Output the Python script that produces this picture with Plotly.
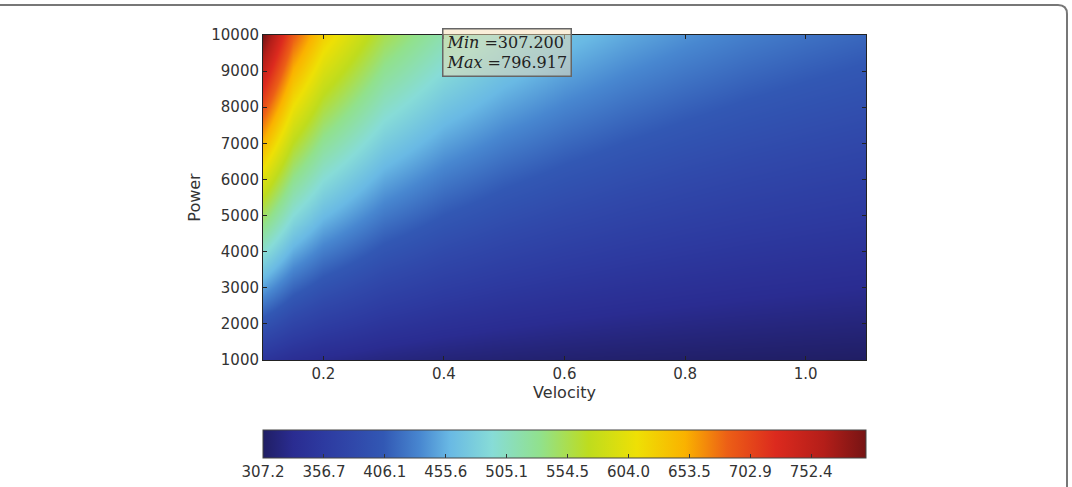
import plotly.graph_objects as go

# ---- data ----
velocity = [0.1, 0.15, 0.2, 0.3, 0.4, 0.5, 0.6, 0.7, 0.8, 0.9, 1.0, 1.1]
power = [1000, 2000, 3000, 4000, 5000, 6000, 7000, 8000, 9000, 10000]

# temperature columns, one list per velocity (values from P=1000 to P=10000)
t_v010 = [345.6, 395.7, 445.9, 496.0, 546.2, 596.3, 646.5, 696.6, 746.8, 796.9]
t_v015 = [334.7, 374.0, 413.3, 452.6, 491.9, 531.2, 570.5, 609.8, 649.1, 688.4]
t_v020 = [328.5, 361.6, 394.7, 427.8, 460.9, 494.0, 527.1, 560.2, 593.3, 626.4]
t_v030 = [321.3, 347.2, 373.1, 399.0, 424.9, 450.8, 476.7, 502.6, 528.5, 554.4]
t_v040 = [317.2, 339.0, 360.8, 382.6, 404.4, 426.2, 448.0, 469.8, 491.6, 513.4]
t_v050 = [314.5, 333.6, 352.7, 371.8, 390.9, 410.0, 429.1, 448.2, 467.3, 486.4]
t_v060 = [312.5, 329.6, 346.7, 363.8, 380.9, 398.0, 415.1, 432.2, 449.3, 466.4]
t_v070 = [311.0, 326.6, 342.2, 357.8, 373.4, 389.0, 404.6, 420.2, 435.8, 451.4]
t_v080 = [309.8, 324.2, 338.6, 353.0, 367.4, 381.8, 396.2, 410.6, 425.0, 439.4]
t_v090 = [308.8, 322.2, 335.6, 349.0, 362.4, 375.8, 389.2, 402.6, 416.0, 429.4]
t_v100 = [308.0, 320.6, 333.2, 345.8, 358.4, 371.0, 383.6, 396.2, 408.8, 421.4]
t_v110 = [307.2, 319.2, 331.1, 343.0, 354.9, 366.8, 378.7, 390.6, 402.5, 414.4]

columns = [t_v010, t_v015, t_v020, t_v030, t_v040, t_v050,
           t_v060, t_v070, t_v080, t_v090, t_v100, t_v110]

t_min = 307.2
t_max = 796.917
cbar_ticks = [307.2, 356.7, 406.1, 455.6, 505.1, 554.5, 604.0, 653.5, 702.9, 752.4]
cbar_labels = ["307.2", "356.7", "406.1", "455.6", "505.1", "554.5",
               "604.0", "653.5", "702.9", "752.4"]
x_ticks = [0.2, 0.4, 0.6, 0.8, 1.0]
x_labels = ["0.2", "0.4", "0.6", "0.8", "1.0"]
y_ticks = [1000, 2000, 3000, 4000, 5000, 6000, 7000, 8000, 9000, 10000]
y_labels = ["1000", "2000", "3000", "4000", "5000", "6000", "7000", "8000",
            "9000", "10000"]

# z as rows (power) x columns (velocity)
z = [[col[i] for col in columns] for i in range(len(power))]

colorscale = [
    [0.00, "rgb(32,30,100)"],
    [0.05, "rgb(42,44,145)"],
    [0.10, "rgb(45,58,160)"],
    [0.15, "rgb(48,72,170)"],
    [0.20, "rgb(50,88,180)"],
    [0.26, "rgb(72,135,208)"],
    [0.31, "rgb(105,185,228)"],
    [0.38, "rgb(135,220,215)"],
    [0.46, "rgb(145,225,140)"],
    [0.54, "rgb(190,220,30)"],
    [0.62, "rgb(238,224,5)"],
    [0.70, "rgb(250,178,0)"],
    [0.77, "rgb(236,95,22)"],
    [0.85, "rgb(220,42,30)"],
    [0.93, "rgb(180,30,25)"],
    [1.00, "rgb(118,20,20)"],
]

# layout geometry (pixels)
W, H = 1072, 487
ML, MR, MT, MB = 263, 206, 35, 127
PW = W - ML - MR
PH = H - MT - MB


def px_x(p):
    return (p - ML) / PW


def px_y(p):
    return (H - MB - p) / PH


TICKFONT = dict(family="DejaVu Sans", size=15, color="#333")
TITLEFONT = dict(family="DejaVu Sans", size=16, color="#333")

fig = go.Figure()
fig.add_trace(go.Heatmap(
    x=velocity, y=power, z=z,
    zmin=t_min, zmax=t_max, zsmooth="best",
    colorscale=colorscale,
    hoverinfo="skip",
    colorbar=dict(
        orientation="h",
        x=0.5, xanchor="center",
        y=px_y(430), yanchor="top",
        len=1.0, lenmode="fraction",
        thickness=28, thicknessmode="pixels",
        outlinewidth=1, outlinecolor="#444",
        tickvals=cbar_ticks, ticktext=cbar_labels,
        ticks="inside", ticklen=4, tickcolor="#333",
        tickfont=TICKFONT,
        xpad=0, ypad=0,
    ),
))

axis_common = dict(
    showline=True, linecolor="#222", linewidth=1, mirror="ticks",
    ticks="inside", ticklen=4, tickcolor="#222",
    showgrid=False, zeroline=False,
    tickfont=TICKFONT,
)

fig.update_xaxes(range=[0.1, 1.1], tickvals=x_ticks, ticktext=x_labels,
                 title=dict(text="Velocity", standoff=4, font=TITLEFONT),
                 **axis_common)
fig.update_yaxes(range=[1000, 10000], tickvals=y_ticks, ticktext=y_labels,
                 title=dict(text="Power", standoff=6, font=TITLEFONT),
                 **axis_common)

fig.add_annotation(
    xref="paper", yref="paper",
    x=px_x(507), y=px_y(28), xanchor="center", yanchor="top",
    text="<i>Min</i> =307.200<br><i>Max</i> =796.917",
    showarrow=False, align="left",
    font=dict(family="DejaVu Serif", size=16, color="#222"),
    bgcolor="rgba(245,222,179,0.5)", bordercolor="#666", borderwidth=1.5,
    borderpad=3,
)

# rounded outer frame (top edge + right edge)
r = 9
path = (f"M {px_x(-5)},{px_y(5)} L {px_x(1067 - r)},{px_y(5)} "
        f"Q {px_x(1067)},{px_y(5)} {px_x(1067)},{px_y(5 + r)} "
        f"L {px_x(1067)},{px_y(495)}")
fig.add_shape(type="path", path=path, xref="paper", yref="paper",
              line=dict(color="#777", width=2), layer="above")

fig.update_layout(
    width=W, height=H,
    margin=dict(l=ML, r=MR, t=MT, b=MB, autoexpand=False),
    paper_bgcolor="white", plot_bgcolor="white",
    showlegend=False,
)

fig.write_html("out.html")
